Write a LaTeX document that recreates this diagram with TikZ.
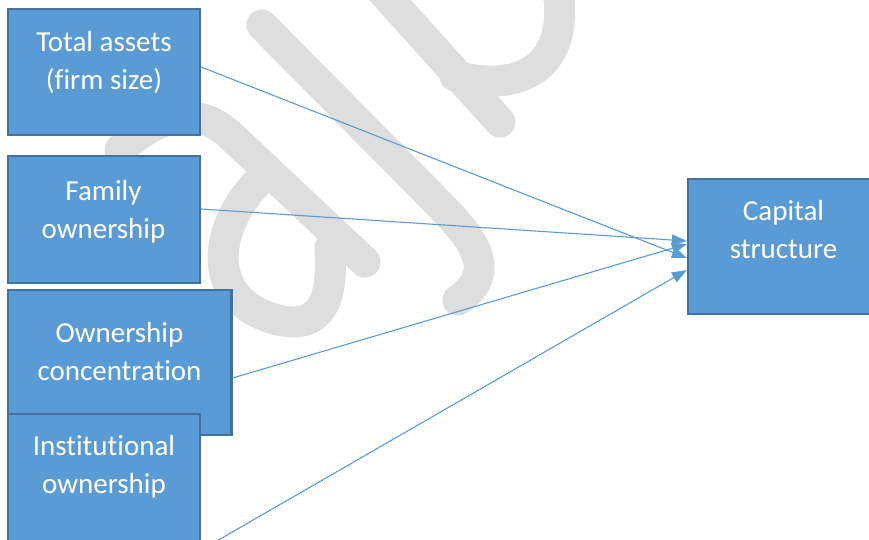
\documentclass[tikz,border=0pt]{standalone}
\usepackage{fontspec}
\setmainfont{Carlito}[Ligatures=NoCommon]
\usetikzlibrary{arrows.meta}
\definecolor{boxfill}{HTML}{5B9BD5}
\definecolor{boxline}{HTML}{41719C}
\definecolor{wm}{HTML}{DEDEDE}
\begin{document}
\begin{tikzpicture}[x=1pt,y=-1pt,
  box/.style={draw=boxline,fill=boxfill,line width=2.2pt,inner sep=0pt,anchor=center},
  lbl/.style={text=white,font=\fontsize{29}{38}\selectfont,align=center,anchor=base,inner sep=0pt},
  conn/.style={draw=boxfill,line width=1.1pt,-{Triangle[length=15pt,width=11pt]}},
  wmark/.style={draw=wm,line width=31pt,line cap=round,line join=round}]
\useasboundingbox (0,0) rectangle (869,540);
\clip (0,0) rectangle (869,540);
% watermark
\draw[wmark] (262,25) -- (440,205) .. controls (480,245) and (495,275) .. (458,300);
\draw[wmark] (372,-20) -- (500,122);
\draw[wmark] (455,76) .. controls (515,92) and (570,72) .. (558,-10);
\draw[wmark] (365,262) -- (230,135) .. controls (205,112) and (170,105) .. (120,150);
\draw[wmark] (262,178) .. controls (215,222) and (200,300) .. (278,320) .. controls (330,332) and (332,285) .. (330,248);
% boxes
\node[box,minimum width=192pt,minimum height=126pt] (ta) at (104,72) {};
\node[box,minimum width=192pt,minimum height=127pt] (fam) at (104,219.5) {};
\node[box,minimum width=223.5pt,minimum height=145pt] (oc) at (119.75,362.5) {};
\node[box,minimum width=192pt,minimum height=146pt] (inst) at (104,487) {};
\node[box,minimum width=192pt,minimum height=135pt] (cap) at (784,246.5) {};
% labels (anchor = baseline of last line)
\node[lbl] (tat) at (104,90) {Total assets\\(firm size)};
\node[lbl] (famt) at (103.5,238) {Family\\ownership};
\node[lbl] (oct) at (119.5,380) {Ownership\\concentration};
\node[lbl] (instt) at (104,493) {Institutional\\ownership};
\node[lbl] (capt) at (783.5,258) {Capital\\structure};
% connectors
\draw[conn] ([yshift=5pt]ta.east) -- ([yshift=-11.5pt]cap.west);
\draw[conn] ([yshift=10.5pt]fam.east) -- ([yshift=5.5pt]cap.west);
\draw[conn] ([yshift=-15.5pt]oc.east) -- ([yshift=2.5pt]cap.west);
\draw[conn] ([yshift=-63pt]inst.east) -- ([yshift=-23.5pt]cap.west);
\end{tikzpicture}
\end{document}
